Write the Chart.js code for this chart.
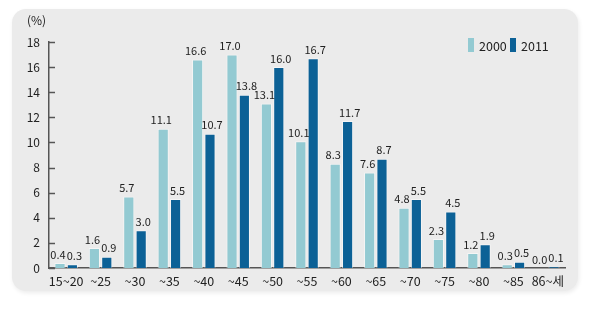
<!DOCTYPE html>
<html>
<head>
<meta charset="utf-8">
<script src="https://cdn.jsdelivr.net/npm/chart.js@4"></script>
<style>
  html, body { margin: 0; padding: 0; background: #fff; }
  #wrap { width: 600px; height: 324px; }
</style>
</head>
<body>
<div id="wrap"><canvas id="myChart"></canvas></div>
<script>
const ageGroups = ["15~20", "~25", "~30", "~35", "~40", "~45", "~50", "~55", "~60", "~65", "~70", "~75", "~80", "~85", "86~세"];
const share2000 = [0.4, 1.6, 5.7, 11.1, 16.6, 17.0, 13.1, 10.1, 8.3, 7.6, 4.8, 2.3, 1.2, 0.3, 0.0];
const share2011 = [0.3, 0.9, 3.0, 5.5, 10.7, 13.8, 16.0, 16.7, 11.7, 8.7, 5.5, 4.5, 1.9, 0.5, 0.1];
const yTicks = [0, 2, 4, 6, 8, 10, 12, 14, 16, 18];

const FONT = "'Noto Sans CJK KR', 'Noto Sans', sans-serif";

// grey rounded panel, (%) unit and the small legend
const panel = {
    id: 'panel',
    beforeDraw(chart) {
        const ctx = chart.ctx;
        ctx.save();
        ctx.shadowColor = 'rgba(0,0,0,0.08)';
        ctx.shadowBlur = 4;
        ctx.shadowOffsetX = 1;
        ctx.shadowOffsetY = 2;
        ctx.fillStyle = '#ebebeb';
        ctx.beginPath();
        ctx.roundRect(12, 9, 566, 282, 14);
        ctx.fill();
        ctx.shadowColor = 'transparent';
        ctx.fillStyle = '#222';
        ctx.font = '12px ' + FONT;
        ctx.textBaseline = 'middle';
        ctx.fillText('(%)', 27, 20);

        // legend
        let x = 468;
        ctx.font = '12.5px ' + FONT;
        chart.data.datasets.forEach(ds => {
            ctx.fillStyle = ds.backgroundColor;
            ctx.fillRect(x, 38, 6, 14);
            ctx.fillStyle = '#222';
            ctx.fillText(ds.label, x + 11, 46);
            x += 42;
        });
        ctx.restore();
    }
};

// inward tick marks on the y axis + value labels over bars
const extras = {
    id: 'extras',
    afterDatasetsDraw(chart) {
        const ctx = chart.ctx;
        const y = chart.scales.y;
        const area = chart.chartArea;
        ctx.save();
        ctx.strokeStyle = '#555';
        ctx.lineWidth = 1.5;
        yTicks.forEach(v => {
            const py = Math.round(y.getPixelForValue(v)) + 0.5;
            ctx.beginPath();
            ctx.moveTo(area.left, py);
            ctx.lineTo(area.left + 6, py);
            ctx.stroke();
        });
        ctx.fillStyle = '#222';
        ctx.font = '11px ' + FONT;
        ctx.textAlign = 'center';
        ctx.textBaseline = 'bottom';
        chart.data.datasets.forEach((ds, i) => {
            const shift = i === 0 ? -2 : 2;
            chart.getDatasetMeta(i).data.forEach((bar, j) => {
                ctx.fillText(ds.data[j].toFixed(1), bar.x + shift, bar.y - 3);
            });
        });
        ctx.restore();
    }
};

const myChart = new Chart("myChart", {
    type: "bar",
    data: {
        labels: ageGroups,
        datasets: [{
            label: "2000",
            data: share2000,
            backgroundColor: '#93cad2',
            borderColor: 'rgba(255,255,255,0.5)',
            borderWidth: 1,
            borderSkipped: 'bottom',
            categoryPercentage: 0.72,
            barPercentage: 0.9
        },
        {
            label: "2011",
            data: share2011,
            backgroundColor: '#0c6196',
            borderColor: 'rgba(255,255,255,0.5)',
            borderWidth: 1,
            borderSkipped: 'bottom',
            categoryPercentage: 0.72,
            barPercentage: 0.9
        }]
    },
    options: {
        responsive: true,
        maintainAspectRatio: false,
        animation: false,
        layout: { padding: { top: 42, right: 35, bottom: 30, left: 0 } },
        plugins: {
            legend: { display: false },
            tooltip: { enabled: false }
        },
        scales: {
            x: {
                grid: { display: false, drawTicks: false },
                border: { display: true, color: '#555', width: 1.5 },
                ticks: { color: '#222', padding: 6, font: { family: FONT, size: 12.5 }, maxRotation: 0, autoSkip: false },
                afterFit(scale) { scale.height = 26; }
            },
            y: {
                min: 0,
                max: 18,
                grid: { display: false, drawTicks: false },
                border: { display: true, color: '#555', width: 1.5 },
                ticks: { stepSize: 2, color: '#222', padding: 9, font: { family: FONT, size: 12 } },
                afterFit(scale) { scale.width = 49; }
            }
        }
    },
    plugins: [panel, extras]
});
</script>
</body>
</html>
